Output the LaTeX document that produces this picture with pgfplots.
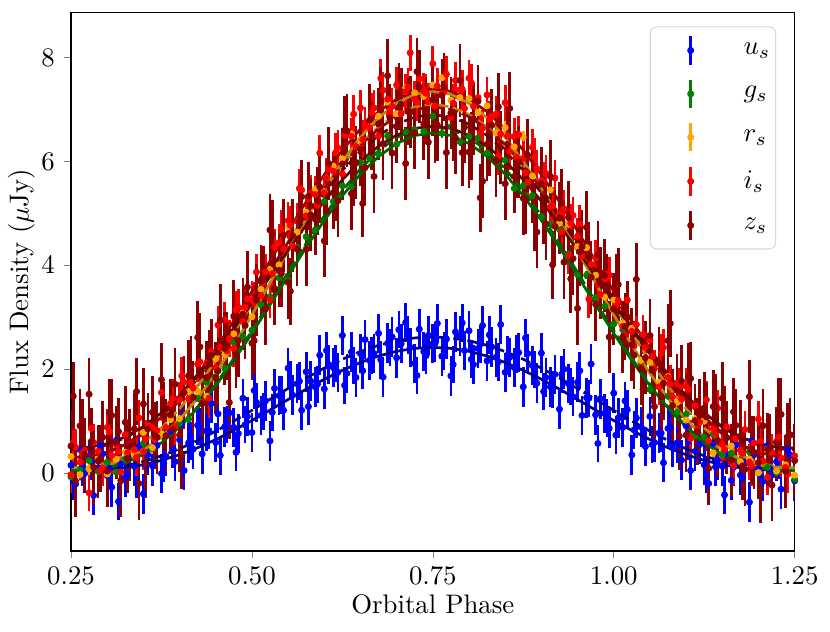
\documentclass[border=0pt]{standalone}
\usepackage{pgfplots}
\usepackage{pgfplotstable}
\pgfplotsset{compat=1.18}
\definecolor{cblue}{rgb}{0,0,1}
\definecolor{cgreen}{rgb}{0,0.5,0}
\definecolor{corange}{rgb}{1,0.647,0}
\definecolor{cred}{rgb}{1,0,0}
\definecolor{cmaroon}{rgb}{0.545,0,0}
\definecolor{mblue}{rgb}{0,0,0.545}
\definecolor{mgreen}{rgb}{0,0.392,0}
\definecolor{morange}{rgb}{0.722,0.525,0.043}
\definecolor{mred}{rgb}{0.62,0,0}
\definecolor{mmaroon}{rgb}{0.42,0,0}

% u, i, z bands (first set)
\pgfplotstableread{
x u i z
0.25 0.15 -0.03 0.52
0.25625 -0.21 0.50 -0.15
0.2625 0.45 0.21 0.91
0.26875 -0.01 0.44 0.36
0.275 0.25 -0.38 1.52
0.28125 -0.43 0.59 0.11
0.2875 0.10 0.42 0.23
0.29375 0.37 0.10 0.69
0.3 -0.05 0.88 0.04
0.30625 -0.27 0.34 1.11
0.3125 0.63 0.54 0.59
0.31875 0.18 0.02 -0.15
0.325 -0.08 0.74 0.98
0.33125 0.31 0.56 0.54
0.3375 0.13 0.45 0.85
0.34375 0.51 1.06 -0.20
0.35 -0.40 0.41 1.33
0.35625 0.35 0.92 0.85
0.3625 0.14 0.88 1.17
0.36875 0.53 0.82 0.69
0.375 -0.01 1.55 1.80
0.38125 0.32 0.88 0.72
0.3875 0.81 1.34 1.12
0.39375 0.22 0.90 1.71
0.4 0.64 1.41 0.73
0.40625 0.05 1.75 1.55
0.4125 0.58 1.43 1.87
0.41875 0.46 1.64 1.46
0.425 0.92 2.10 2.61
0.43125 0.37 1.36 1.34
0.4375 0.81 2.12 1.84
0.44375 1.34 2.34 2.27
0.45 0.59 2.03 1.83
0.45625 0.34 2.42 2.94
0.4625 0.89 2.95 2.40
0.46875 1.16 2.59 1.36
0.475 0.88 2.40 3.02
0.48125 0.76 3.19 2.55
0.4875 1.44 2.92 3.06
0.49375 1.09 3.35 3.58
0.5 0.78 3.34 2.50
0.50625 1.36 3.87 3.33
0.5125 1.11 3.41 3.69
0.51875 1.39 3.87 3.16
0.525 0.62 3.34 4.68
0.53125 1.63 4.35 3.55
0.5375 1.49 4.44 3.90
0.54375 1.21 4.31 4.58
0.55 2.02 4.86 3.67
0.55625 1.50 4.37 4.57
0.5625 1.72 4.85 4.31
0.56875 1.21 5.45 5.32
0.575 1.95 4.95 4.31
0.58125 1.77 5.38 4.97
0.5875 1.66 5.36 4.89
0.59375 2.27 6.16 5.51
0.6 1.62 5.40 4.47
0.60625 2.09 5.86 5.96
0.6125 2.03 5.81 5.40
0.61875 1.94 6.26 5.24
0.625 2.65 5.76 5.95
0.63125 1.92 6.55 6.59
0.6375 2.33 6.48 5.38
0.64375 1.84 6.29 5.98
0.65 2.30 7.03 6.23
0.65625 2.57 6.70 5.88
0.6625 2.17 6.65 6.79
0.66875 2.30 7.03 5.71
0.675 2.69 6.49 6.72
0.68125 1.85 7.37 6.34
0.6875 2.50 7.20 7.65
0.69375 2.62 7.06 6.16
0.7 2.22 7.47 6.67
0.70625 2.49 6.92 7.10
0.7125 2.90 7.34 5.96
0.71875 2.42 8.09 6.95
0.725 2.11 7.20 6.55
0.73125 2.77 7.59 7.44
0.7375 2.34 7.35 6.72
0.74375 2.65 7.15 6.37
0.75 2.49 7.88 7.19
0.75625 2.88 7.45 6.70
0.7625 2.25 7.29 7.27
0.76875 2.58 7.68 6.17
0.775 1.87 6.84 6.93
0.78125 2.72 7.56 6.45
0.7875 2.64 7.38 7.56
0.79375 2.36 7.02 6.66
0.8 2.74 7.60 6.18
0.80625 2.09 7.06 6.82
0.8125 2.40 7.23 7.16
0.81875 2.84 6.64 5.62
0.825 2.16 7.28 6.33
0.83125 2.43 6.87 6.70
0.8375 2.23 6.91 6.02
0.84375 2.86 6.53 6.27
0.85 1.94 7.13 5.57
0.85625 2.23 6.19 7.02
0.8625 2.03 6.48 5.71
0.86875 2.32 6.52 5.99
0.875 1.66 6.06 5.29
0.88125 2.30 5.60 6.12
0.8875 2.07 6.27 5.51
0.89375 1.73 5.86 4.64
0.9 2.31 5.63 5.57
0.90625 1.84 5.77 4.80
0.9125 1.66 5.13 5.71
0.91875 1.90 5.68 4.75
0.925 1.23 4.99 4.91
0.93125 2.00 5.09 4.06
0.9375 1.72 4.19 4.92
0.94375 1.47 4.96 4.13
0.95 1.75 4.56 3.17
0.95625 1.11 4.18 4.36
0.9625 1.45 4.73 4.73
0.96875 2.10 4.02 3.77
0.975 1.12 4.14 3.25
0.98125 1.43 3.44 3.66
0.9875 1.15 3.74 3.80
0.99375 0.86 3.81 2.62
1.0 1.54 3.17 3.16
1.00625 1.06 3.32 3.63
1.0125 0.88 2.82 2.62
1.01875 1.22 3.33 2.99
1.025 0.35 2.73 2.47
1.03125 1.06 2.86 3.73
1.0375 0.89 2.03 2.01
1.04375 0.51 2.42 2.22
1.05 1.09 2.56 2.65
1.05625 0.59 2.01 1.28
1.0625 0.77 1.66 2.11
1.06875 0.20 2.42 1.73
1.075 0.86 1.84 2.55
1.08125 0.49 1.47 1.30
1.0875 0.58 1.73 1.59
1.09375 0.25 1.42 1.77
1.1 0.91 1.67 0.73
1.10625 0.05 0.67 1.82
1.1125 0.42 1.30 1.01
1.11875 0.55 0.98 1.11
1.125 0.16 1.25 1.25
1.13125 -0.20 0.62 0.09
1.1375 0.57 0.85 1.28
1.14375 0.25 1.25 0.63
1.15 0.13 0.55 1.44
1.15625 0.37 0.89 0.68
1.1625 -0.14 0.21 0.25
1.16875 0.54 0.66 0.92
1.175 -0.04 0.44 0.71
1.18125 0.21 0.84 0.07
1.1875 -0.56 0.21 1.47
1.19375 0.35 0.58 0.40
1.2 0.08 1.04 0.20
1.20625 -0.16 0.23 0.91
1.2125 0.53 -0.08 0.45
1.21875 -0.04 0.40 -0.23
1.225 0.22 0.61 0.58
1.23125 -0.31 0.28 1.13
1.2375 0.12 0.11 0.03
1.24375 0.35 0.73 0.74
1.25 -0.15 0.33 0.24
}\tabA

% u, i, z bands (second set)
\pgfplotstableread{
x u i z
0.2531 -0.15 0.58 1.48
0.2656 0.12 0.38 0.77
0.2781 0.23 0.86 0.61
0.2906 0.53 0.05 0.28
0.3031 0.09 0.80 1.16
0.3156 -0.55 0.41 0.80
0.3281 -0.03 0.39 0.28
0.3406 -0.12 0.31 1.57
0.3531 0.15 0.65 0.18
0.3656 0.60 0.64 0.72
0.3781 0.19 1.08 1.10
0.3906 0.45 1.44 0.84
0.4031 0.94 1.87 0.35
0.4156 0.62 1.74 1.98
0.4281 0.90 2.14 2.43
0.4406 0.82 1.44 2.10
0.4531 1.14 2.85 1.97
0.4656 0.93 2.35 2.45
0.4781 0.40 3.14 2.28
0.4906 0.93 3.19 2.84
0.5031 1.59 3.30 2.55
0.5156 1.19 3.66 3.72
0.5281 1.17 3.84 4.60
0.5406 1.50 4.69 3.84
0.5531 1.80 4.77 3.50
0.5656 1.77 5.48 4.84
0.5781 1.28 5.28 5.33
0.5906 1.71 5.15 5.24
0.6031 2.36 5.69 5.05
0.6156 2.11 6.17 5.50
0.6281 1.69 6.50 6.60
0.6406 2.07 6.91 5.79
0.6531 1.97 6.42 5.19
0.6656 2.26 6.94 6.49
0.6781 2.18 7.60 7.16
0.6906 2.42 6.95 6.84
0.7031 2.76 7.25 7.25
0.7156 2.66 7.43 6.96
0.7281 1.88 7.14 7.73
0.7406 2.26 7.31 6.98
0.7531 2.49 7.07 6.62
0.7656 2.35 7.35 7.43
0.7781 2.09 7.12 6.66
0.7906 2.89 7.39 6.17
0.8031 2.19 7.51 6.30
0.8156 2.48 6.55 5.30
0.8281 2.66 6.80 6.37
0.8406 2.14 6.10 7.05
0.8531 2.27 6.49 6.33
0.8656 2.29 6.08 5.94
0.8781 2.60 5.78 5.26
0.8906 1.99 6.08 4.93
0.9031 1.57 5.61 5.06
0.9156 1.61 5.14 4.01
0.9281 1.90 4.64 5.20
0.9406 1.67 4.81 3.74
0.9531 1.97 4.80 4.26
0.9656 1.44 3.35 4.18
0.9781 0.57 3.63 4.20
0.9906 1.06 3.83 3.57
1.0031 0.73 3.22 3.56
1.0156 1.39 2.65 2.82
1.0281 0.83 2.45 2.27
1.0406 0.84 2.67 1.61
1.0531 0.55 2.25 1.98
1.0656 0.77 2.31 1.47
1.0781 0.88 1.71 2.88
1.0906 0.55 1.66 0.71
1.1031 0.61 1.61 1.86
1.1156 0.78 0.84 0.80
1.1281 -0.03 1.41 1.08
1.1406 0.12 0.75 1.26
1.1531 -0.42 0.45 1.03
1.1656 0.11 0.14 1.18
1.1781 -0.09 0.38 0.14
1.1906 0.62 0.13 0.44
1.2031 -0.06 0.61 -0.32
1.2156 0.09 0.44 0.49
1.2281 0.25 0.70 1.19
1.2406 0.45 -0.02 0.70
}\tabC

% g, r bands
\pgfplotstableread{
x g r
0.25 -0.07 0.32
0.2625 0.06 -0.03
0.275 0.24 0.08
0.2875 0.03 0.27
0.3 0.21 -0.02
0.3125 0.02 0.27
0.325 0.28 0.40
0.3375 0.31 0.35
0.35 0.57 0.78
0.3625 0.47 0.49
0.375 0.76 0.76
0.3875 1.11 1.03
0.4 0.96 1.05
0.4125 1.04 1.57
0.425 1.44 1.58
0.4375 1.75 1.48
0.45 1.85 2.20
0.4625 2.02 2.28
0.475 2.52 2.68
0.4875 2.63 3.09
0.5 2.75 3.01
0.5125 3.24 3.54
0.525 3.40 3.91
0.5375 3.76 4.01
0.55 3.71 4.74
0.5625 4.35 4.64
0.575 4.55 5.02
0.5875 4.68 5.47
0.6 5.23 5.42
0.6125 5.23 5.91
0.625 5.53 6.05
0.6375 5.51 6.53
0.65 5.98 6.41
0.6625 6.06 6.77
0.675 6.15 6.87
0.6875 6.49 7.14
0.7 6.33 6.92
0.7125 6.57 7.42
0.725 6.61 7.32
0.7375 6.58 7.25
0.75 6.87 7.47
0.7625 6.54 7.61
0.775 6.67 7.18
0.7875 6.38 7.23
0.8 6.48 7.21
0.8125 6.45 6.94
0.825 6.16 7.07
0.8375 6.05 6.55
0.85 6.02 6.65
0.8625 5.48 6.28
0.875 5.53 6.46
0.8875 5.34 5.72
0.9 4.94 5.61
0.9125 4.79 5.45
0.925 4.69 4.81
0.9375 4.22 4.79
0.95 3.82 4.36
0.9625 3.81 4.34
0.975 3.38 3.81
0.9875 3.21 3.39
1.0 2.87 3.33
1.0125 2.76 2.89
1.025 2.25 2.79
1.0375 2.13 2.17
1.05 1.61 2.13
1.0625 1.72 1.75
1.075 1.48 1.86
1.0875 1.17 1.36
1.1 1.13 1.02
1.1125 0.72 1.05
1.125 0.69 1.00
1.1375 0.74 0.39
1.15 0.35 0.49
1.1625 0.38 0.52
1.175 0.21 0.22
1.1875 0.41 0.27
1.2 0.00 0.01
1.2125 0.11 0.46
1.225 0.01 0.04
1.2375 0.14 0.16
1.25 -0.12 -0.04
}\tabB

% model curves
\pgfplotstableread{
x ub ud gs gd os od rs rd ms md
0.25 0.05 0.05 0.05 0.05 0.10 0.10 0.30 0.30 0.48 0.45
0.275 0.053 0.057 0.059 0.059 0.110 0.120 0.320 0.319 0.498 0.469
0.3 0.069 0.086 0.102 0.103 0.158 0.198 0.400 0.395 0.567 0.541
0.325 0.104 0.140 0.198 0.201 0.265 0.346 0.550 0.538 0.698 0.677
0.35 0.162 0.223 0.357 0.362 0.442 0.570 0.777 0.753 0.896 0.883
0.375 0.245 0.332 0.585 0.595 0.697 0.869 1.080 1.041 1.161 1.158
0.4 0.354 0.468 0.885 0.900 1.031 1.239 1.455 1.398 1.489 1.499
0.425 0.488 0.627 1.253 1.275 1.441 1.673 1.895 1.817 1.873 1.899
0.45 0.645 0.807 1.682 1.712 1.920 2.162 2.392 2.289 2.307 2.350
0.475 0.822 1.002 2.166 2.206 2.461 2.694 2.931 2.801 2.777 2.840
0.5 1.012 1.208 2.690 2.738 3.044 3.254 3.499 3.342 3.274 3.356
0.525 1.213 1.419 3.239 3.298 3.657 3.828 4.082 3.895 3.782 3.885
0.55 1.416 1.629 3.796 3.865 4.278 4.399 4.661 4.446 4.288 4.412
0.575 1.616 1.831 4.345 4.424 4.890 4.952 5.221 4.978 4.777 4.921
0.6 1.806 2.021 4.865 4.954 5.471 5.468 5.745 5.477 5.235 5.397
0.625 1.979 2.192 5.340 5.438 6.001 5.934 6.217 5.926 5.647 5.825
0.65 2.130 2.340 5.755 5.860 6.463 6.336 6.625 6.314 6.004 6.196
0.675 2.253 2.460 6.093 6.205 6.840 6.663 6.957 6.629 6.293 6.498
0.7 2.345 2.548 6.344 6.460 7.120 6.903 7.201 6.860 6.506 6.719
0.725 2.401 2.602 6.498 6.617 7.292 7.050 7.350 7.002 6.636 6.854
0.75 2.42 2.62 6.55 6.67 7.35 7.10 7.40 7.05 6.68 6.90
0.775 2.401 2.602 6.498 6.617 7.292 7.050 7.350 7.002 6.636 6.854
0.8 2.345 2.548 6.344 6.460 7.120 6.903 7.201 6.860 6.506 6.719
0.825 2.253 2.460 6.093 6.205 6.840 6.663 6.957 6.629 6.293 6.498
0.85 2.130 2.340 5.755 5.860 6.463 6.336 6.625 6.314 6.004 6.196
0.875 1.979 2.192 5.340 5.438 6.001 5.934 6.217 5.926 5.647 5.825
0.9 1.806 2.021 4.865 4.954 5.471 5.468 5.745 5.477 5.235 5.397
0.925 1.616 1.831 4.345 4.424 4.890 4.952 5.221 4.978 4.777 4.921
0.95 1.416 1.629 3.796 3.865 4.278 4.399 4.661 4.446 4.288 4.412
0.975 1.213 1.419 3.239 3.298 3.657 3.828 4.082 3.895 3.782 3.885
1.0 1.012 1.208 2.690 2.738 3.044 3.254 3.499 3.342 3.274 3.356
1.025 0.822 1.002 2.166 2.206 2.461 2.694 2.931 2.801 2.777 2.840
1.05 0.645 0.807 1.682 1.712 1.920 2.162 2.392 2.289 2.307 2.350
1.075 0.488 0.627 1.253 1.275 1.441 1.673 1.895 1.817 1.873 1.899
1.1 0.354 0.468 0.885 0.900 1.031 1.239 1.455 1.398 1.489 1.499
1.125 0.245 0.332 0.585 0.595 0.697 0.869 1.080 1.041 1.161 1.158
1.15 0.162 0.223 0.357 0.362 0.442 0.570 0.777 0.753 0.896 0.883
1.175 0.104 0.140 0.198 0.201 0.265 0.346 0.550 0.538 0.698 0.677
1.2 0.069 0.086 0.102 0.103 0.158 0.198 0.400 0.395 0.567 0.541
1.225 0.053 0.057 0.059 0.059 0.110 0.120 0.320 0.319 0.498 0.469
1.25 0.05 0.05 0.05 0.05 0.10 0.10 0.30 0.30 0.48 0.45
}\tabM

\pgfplotsset{
  errpts/.style={only marks, mark=*, mark size=1.1pt, color=#1,
    error bars/y dir=both, error bars/error mark=none,
    error bars/error bar style={line width=1pt},
    legend image code/.code={%
      \path (0pt,0pt) (32.4pt,0pt);
      \draw[line width=1pt] (14.9pt,-5.3pt) -- (14.9pt,5.3pt);
      \fill (14.9pt,0pt) circle (1.1pt);}},
  model/.style={#1, line width=1pt, forget plot},
  modeld/.style={#1, line width=1pt, dash pattern=on 3.7pt off 1.6pt, forget plot},
}

\begin{document}
\begin{tikzpicture}
\useasboundingbox (-26.5pt,-29.85pt) rectangle (283.2pt,205.6pt);
\begin{axis}[
  at={(0pt,0pt)}, anchor=south west,
  scale only axis, width=270pt, height=201pt,
  xmin=0.25, xmax=1.25, ymin=-1.5, ymax=8.87,
  xtick={0.25,0.5,0.75,1,1.25}, ytick={0,2,4,6,8},
  xticklabel style={/pgf/number format/.cd, fixed, fixed zerofill, precision=2},
  tick align=outside, tick pos=left, major tick length=2.5pt,
  axis line style={line width=0.5pt},
  xlabel={Orbital Phase}, ylabel={Flux Density ($\mu$Jy)},
  xlabel style={yshift=3pt},
  ylabel style={at={(axis description cs:-0.0677,0.5)}, anchor=center},
  legend cell align=left,
  legend style={at={(0.7997,0.974)}, anchor=north west, draw=black!15,
    rounded corners=2.5pt, inner xsep=0pt, inner ysep=3pt, row sep=4.6pt},
]
\addplot[errpts=cblue, error bars/y fixed=0.38] table[x=x,y=u]{\tabA};
\addlegendentry{$u_s$}
\addplot[errpts=cblue, error bars/y fixed=0.36, forget plot] table[x=x,y=u]{\tabC};
\addplot[errpts=cgreen, error bars/y fixed=0.08] table[x=x,y=g]{\tabB};
\addlegendentry{$g_s$}
\addplot[errpts=corange, error bars/y fixed=0.13] table[x=x,y=r]{\tabB};
\addlegendentry{$r_s$}
\addplot[errpts=cred, error bars/y fixed=0.35] table[x=x,y=i]{\tabA};
\addlegendentry{$i_s$}
\addplot[errpts=cred, error bars/y fixed=0.37, forget plot] table[x=x,y=i]{\tabC};
\addplot[errpts=cmaroon, error bars/y fixed=0.7] table[x=x,y=z]{\tabA};
\addlegendentry{$z_s$}
\addplot[errpts=cmaroon, error bars/y fixed=0.65, forget plot] table[x=x,y=z]{\tabC};

\addplot[model=mblue] table[x=x,y=ub]{\tabM};
\addplot[modeld=mblue] table[x=x,y=ud]{\tabM};
\addplot[model=mgreen] table[x=x,y=gs]{\tabM};
\addplot[modeld=mgreen] table[x=x,y=gd]{\tabM};
\addplot[model=morange] table[x=x,y=os]{\tabM};
\addplot[modeld=morange] table[x=x,y=od]{\tabM};
\addplot[model=mred] table[x=x,y=rs]{\tabM};
\addplot[modeld=mred] table[x=x,y=rd]{\tabM};
\addplot[model=mmaroon] table[x=x,y=ms]{\tabM};
\addplot[modeld=mmaroon] table[x=x,y=md]{\tabM};
\end{axis}
\end{tikzpicture}
\end{document}
